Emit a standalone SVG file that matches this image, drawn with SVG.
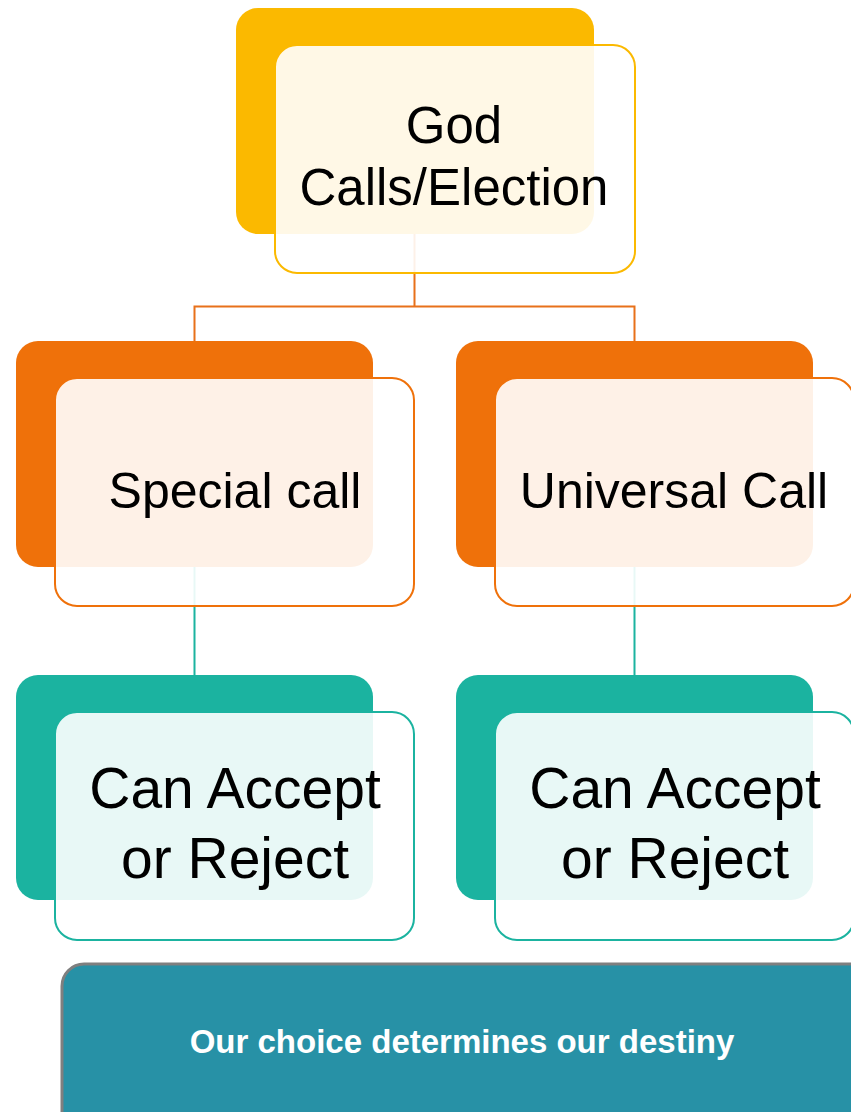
<svg xmlns="http://www.w3.org/2000/svg" width="851" height="1112" viewBox="0 0 851 1112">
<style>
.back{stroke:none}
.front{fill:#ffffff;fill-opacity:0.9;stroke-width:2}
.lbl{font-family:"Liberation Sans",Arial,sans-serif;fill:#000;text-anchor:middle}
.conn{fill:none;stroke-width:2}
</style>
<rect width="851" height="1112" fill="#ffffff"/>
<g id="node-god-back"><rect class="back" x="236" y="8" width="358" height="226" rx="22" fill="#FBB900"/></g>
<g id="node-special-back"><rect class="back" x="16" y="341" width="357" height="226" rx="22" fill="#EF710A"/></g>
<g id="node-universal-back"><rect class="back" x="456" y="341" width="357" height="226" rx="22" fill="#EF710A"/></g>
<g id="node-accept1-back"><rect class="back" x="16" y="675" width="357" height="225" rx="22" fill="#1BB3A0"/></g>
<g id="node-accept2-back"><rect class="back" x="456" y="675" width="357" height="225" rx="22" fill="#1BB3A0"/></g>
<g id="connectors">
<path class="conn" stroke="#E8711A" d="M414.5 234V306.5H194.5V341M414.5 306.5H634.5V341"/>
<path class="conn" stroke="#1BB3A0" d="M194.5 567V675M634.5 567V675"/>
</g>
<g id="node-god">
<rect class="front" x="275" y="45" width="360" height="228" rx="22" stroke="#FBB900"/>
<text class="lbl" x="454" y="143" font-size="51">God</text>
<text class="lbl" x="454" y="205" font-size="51">Calls/Election</text>
</g>
<g id="node-special">
<rect class="front" x="55" y="378" width="359" height="228" rx="22" stroke="#EF710A"/>
<text class="lbl" x="235" y="508" font-size="50">Special call</text>
</g>
<g id="node-universal">
<rect class="front" x="495" y="378" width="359" height="228" rx="22" stroke="#EF710A"/>
<text class="lbl" x="674" y="508" font-size="50">Universal Call</text>
</g>
<g id="node-accept1">
<rect class="front" x="55" y="712" width="359" height="228" rx="22" stroke="#1BB3A0"/>
<text class="lbl" x="235" y="808" font-size="57">Can Accept</text>
<text class="lbl" x="235" y="878" font-size="57">or Reject</text>
</g>
<g id="node-accept2">
<rect class="front" x="495" y="712" width="359" height="228" rx="22" stroke="#1BB3A0"/>
<text class="lbl" x="675" y="808" font-size="57">Can Accept</text>
<text class="lbl" x="675" y="878" font-size="57">or Reject</text>
</g>
<g id="node-destiny">
<rect x="62" y="964" width="820" height="200" rx="22" fill="#2791A6" stroke="#7F7F7F" stroke-width="3"/>
<text x="462" y="1053" font-family="'Liberation Sans',Arial,sans-serif" font-weight="bold" font-size="33" fill="#ffffff" text-anchor="middle">Our choice determines our destiny</text>
</g>
</svg>
